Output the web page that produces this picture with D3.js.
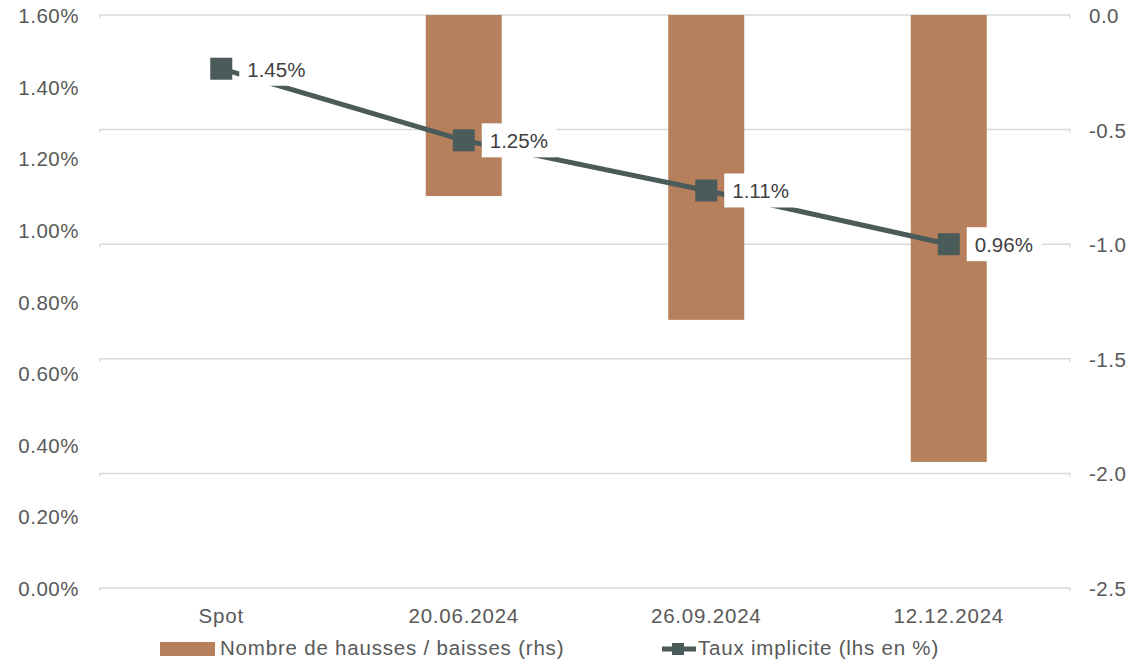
<!DOCTYPE html>
<html>
<head>
<meta charset="utf-8">
<script src="https://cdn.jsdelivr.net/npm/d3@7"></script>
<style>
  body { margin: 0; background: #fff; }
  text { font-family: "Liberation Sans", Arial, sans-serif; }
</style>
</head>
<body>
<script>
const categories = ["Spot", "20.06.2024", "26.09.2024", "12.12.2024"];
const barValues = [0, -0.79, -1.33, -1.95];
const lineValues = [1.45, 1.25, 1.11, 0.96];
const leftTicks = [0, 0.2, 0.4, 0.6, 0.8, 1.0, 1.2, 1.4, 1.6];
const rightTicks = [0, -0.5, -1.0, -1.5, -2.0, -2.5];
const legendLabels = ["Nombre de hausses / baisses (rhs)", "Taux implicite (lhs en %)"];

const W = 1133, H = 663;
const m = {top: 15, right: 63, bottom: 75, left: 100};
const barColor = "#b5805b", lineColor = "#4b5b59", textColor = "#595959", gridColor = "#d9d9d9";
const fs = "20.5px", ls = "0.5px";

const svg = d3.select("body").append("svg").attr("width", W).attr("height", H);

const x = d3.scaleBand().domain(categories).range([m.left, W - m.right]);
const yL = d3.scaleLinear().domain([0, 1.6]).range([H - m.bottom, m.top]);
const yR = d3.scaleLinear().domain([-2.5, 0]).range([H - m.bottom, m.top]);

// gridlines (right axis)
svg.append("g")
  .selectAll("path")
  .data(rightTicks)
  .join("path")
  .attr("d", d => `M${m.left},${yR(d) + 3}V${yR(d)}H${W - m.right}V${yR(d) + 3}`)
  .attr("fill", "none")
  .attr("stroke", gridColor)
  .attr("stroke-width", 1.5);

// left axis labels
svg.append("g")
  .selectAll("text")
  .data(leftTicks)
  .join("text")
  .attr("x", 79)
  .attr("y", d => yL(d) + 8)
  .attr("text-anchor", "end")
  .attr("fill", textColor)
  .style("font-size", fs)
  .style("letter-spacing", ls)
  .text(d => d3.format(".2f")(d) + "%");

// right axis labels
svg.append("g")
  .selectAll("text")
  .data(rightTicks)
  .join("text")
  .attr("x", 1089)
  .attr("y", d => yR(d) + 8)
  .attr("fill", textColor)
  .style("font-size", fs)
  .style("letter-spacing", ls)
  .text(d => d3.format(".1f")(d).replace("−", "-"));

// bars
const bw = 76;
svg.append("g")
  .selectAll("rect")
  .data(barValues)
  .join("rect")
  .attr("x", (d, i) => x(categories[i]) + x.bandwidth() / 2 - bw / 2)
  .attr("y", yR(0))
  .attr("width", bw)
  .attr("height", d => yR(d) - yR(0))
  .attr("fill", barColor);

// category labels
svg.append("g")
  .selectAll("text")
  .data(categories)
  .join("text")
  .attr("x", d => x(d) + x.bandwidth() / 2)
  .attr("y", 623)
  .attr("text-anchor", "middle")
  .attr("fill", textColor)
  .style("font-size", fs)
  .style("letter-spacing", "0.8px")
  .text(d => d);

// line
const cx = (d, i) => x(categories[i]) + x.bandwidth() / 2;
svg.append("path")
  .datum(lineValues)
  .attr("d", d3.line().x(cx).y(d => yL(d)))
  .attr("fill", "none")
  .attr("stroke", lineColor)
  .attr("stroke-width", 5);

// data labels with white boxes
const lab = svg.append("g")
  .selectAll("g")
  .data(lineValues)
  .join("g")
  .attr("transform", (d, i) => `translate(${cx(d, i) + 18},${yL(d)})`);
lab.append("rect")
  .attr("x", 0).attr("y", -17)
  .attr("width", 75).attr("height", 34)
  .attr("fill", "#fff");
lab.append("text")
  .attr("x", 8)
  .attr("y", 8)
  .attr("fill", "#404040")
  .style("font-size", fs)
  .text(d => d3.format(".2f")(d) + "%");

// markers
svg.append("g")
  .selectAll("rect")
  .data(lineValues)
  .join("rect")
  .attr("x", (d, i) => cx(d, i) - 11)
  .attr("y", d => yL(d) - 11)
  .attr("width", 22)
  .attr("height", 22)
  .attr("fill", lineColor);

// legend
const lg = svg.append("g");
lg.append("rect").attr("x", 160).attr("y", 642).attr("width", 55).attr("height", 14).attr("fill", barColor);
lg.append("text").attr("x", 220).attr("y", 655)
  .attr("fill", textColor).style("font-size", fs).style("letter-spacing", "0.8px").text(legendLabels[0]);
lg.append("line").attr("x1", 662).attr("x2", 696).attr("y1", 649).attr("y2", 649)
  .attr("stroke", lineColor).attr("stroke-width", 5);
lg.append("rect").attr("x", 672).attr("y", 643).attr("width", 12).attr("height", 12).attr("fill", lineColor);
lg.append("text").attr("x", 698).attr("y", 655)
  .attr("fill", textColor).style("font-size", fs).style("letter-spacing", "0.8px").text(legendLabels[1]);
</script>
</body>
</html>
